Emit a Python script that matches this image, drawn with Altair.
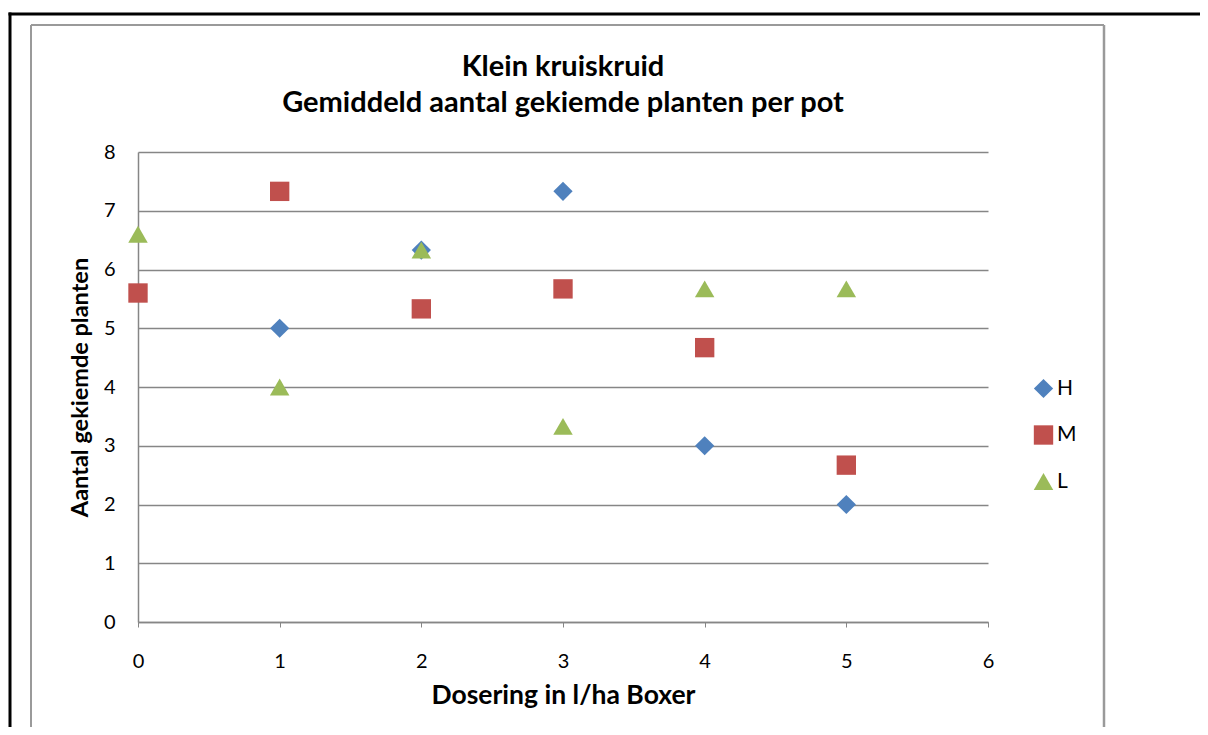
import altair as alt
import pandas as pd

doses_h = [1, 2, 3, 4, 5]
values_h = [5.0, 6.33, 7.33, 3.0, 2.0]
doses_m = [0, 1, 2, 3, 4, 5]
values_m = [5.6, 7.33, 5.33, 5.67, 4.67, 2.67]
doses_l = [0, 1, 2, 3, 4, 5]
values_l = [6.6, 4.0, 6.33, 3.33, 5.67, 5.67]

series = ["H", "M", "L"]
colors = ["#4F81BD", "#C0504D", "#9BBB59"]
shapes = ["diamond", "square", "triangle-up"]
title_lines = ["Klein kruiskruid", "Gemiddeld aantal gekiemde planten per pot"]

rows = []
for s, xs, ys in [("H", doses_h, values_h), ("M", doses_m, values_m), ("L", doses_l, values_l)]:
    for x, y in zip(xs, ys):
        rows.append({"Dosering": x, "Aantal": y, "Serie": s})
df = pd.DataFrame(rows)
one = pd.DataFrame({"k": [0]})

FONT = "Lato"
W, H = 850, 470
PL, PT, PR, PB = 130, 144, 212, 105

sizes = {"H": 370, "M": 380, "L": 330}

points = alt.Chart(df).mark_point(filled=True, opacity=1).encode(
    x=alt.X("Dosering:Q",
            scale=alt.Scale(domain=[0, 6], nice=False, zero=False),
            axis=alt.Axis(values=[0, 1, 2, 3, 4, 5, 6], format="d", grid=False,
                          title="Dosering in l/ha Boxer", domainColor="#868686",
                          tickColor="#868686", tickSize=5, labelPadding=24,
                          labelFlush=False, titlePadding=11, titleFontSize=26.5)),
    y=alt.Y("Aantal:Q",
            scale=alt.Scale(domain=[0, 8], nice=False),
            axis=alt.Axis(values=[0, 1, 2, 3, 4, 5, 6, 7, 8], format="d", grid=True,
                          gridColor="#868686", gridWidth=1.5, ticks=False,
                          title="Aantal gekiemde planten", domainColor="#868686",
                          labelPadding=23, labelFlush=False, titlePadding=11,
                          titleFontSize=23.5)),
    color=alt.Color("Serie:N", scale=alt.Scale(domain=series, range=colors),
                    legend=alt.Legend(title=None, orient="none", legendX=895, legendY=226,
                                      symbolSize=280, rowPadding=24.5, labelFontSize=21,
                                      labelFont=FONT, labelOffset=3, padding=0)),
    shape=alt.Shape("Serie:N", scale=alt.Scale(domain=series, range=shapes)),
    size=alt.Size("Serie:N", scale=alt.Scale(domain=series, range=[sizes[s] for s in series]), legend=None),
)

title = alt.Chart(one).mark_text(
    text=title_lines, font=FONT, fontSize=29, fontWeight="bold", color="#000000",
    align="center", baseline="alphabetic", lineHeight=36,
).encode(x=alt.value(W / 2), y=alt.value(-76))

frame_inner_left = alt.Chart(one).mark_rule(color="#9a9a9a", strokeWidth=2).encode(
    x=alt.value(-107), y=alt.value(-127), y2=alt.value(H + PB))
frame_inner_top = alt.Chart(one).mark_rule(color="#9a9a9a", strokeWidth=2).encode(
    x=alt.value(-107), x2=alt.value(966), y=alt.value(-127))
frame_inner_right = alt.Chart(one).mark_rule(color="#9a9a9a", strokeWidth=2.5).encode(
    x=alt.value(966), y=alt.value(-127), y2=alt.value(H + PB))
frame_outer_left = alt.Chart(one).mark_rule(color="#000000", strokeWidth=3).encode(
    x=alt.value(-128), y=alt.value(-139.5), y2=alt.value(H + PB))
frame_outer_top = alt.Chart(one).mark_rule(color="#000000", strokeWidth=3).encode(
    x=alt.value(-129.5), x2=alt.value(W + PR), y=alt.value(-138))

chart = alt.layer(
    frame_outer_left, frame_outer_top, frame_inner_left, frame_inner_top, frame_inner_right,
    title, points
).properties(
    width=W, height=H,
    autosize=alt.AutoSizeParams(type="none"),
    padding={"left": PL, "top": PT, "right": PR, "bottom": PB},
    background="white",
).configure_view(stroke=None).configure_axis(
    labelFont=FONT, labelFontSize=20, labelColor="#000000",
    titleFont=FONT, titleFontWeight="bold", titleColor="#000000",
    domainWidth=1.5,
)

chart.save("out.html", embed_options={"renderer": "svg", "actions": False})
